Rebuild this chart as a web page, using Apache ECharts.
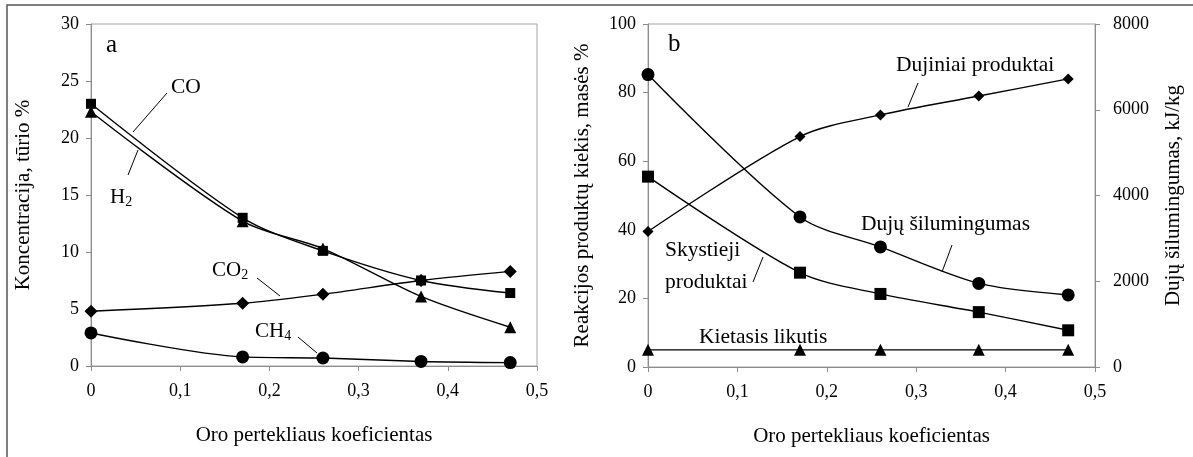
<!DOCTYPE html>
<html><head><meta charset="utf-8">
<script src="https://cdn.jsdelivr.net/npm/echarts@6/dist/echarts.min.js"></script>
<style>html,body{margin:0;padding:0;background:#fff}#c{width:1193px;height:457px}</style>
</head><body><div id="c"></div>
<script>
const xValues = [0, 0.17, 0.26, 0.37, 0.47];
const xTicks = ['0', '0,1', '0,2', '0,3', '0,4', '0,5'];
const coData = [23.0, 13.0, 10.1, 7.5, 6.4];
const h2Data = [22.3, 12.7, 10.3, 6.1, 3.4];
const co2Data = [4.8, 5.5, 6.3, 7.5, 8.3];
const ch4Data = [2.9, 0.8, 0.7, 0.4, 0.3];
const gasProducts = [39.5, 67.2, 73.5, 79.0, 84.0];
const liquidProducts = [55.5, 27.5, 21.3, 16.0, 10.7];
const solidResidue = [5, 5, 5, 5, 5];
const gasHeat = [6820, 3500, 2800, 1950, 1680];

const FONT = '"Liberation Serif", "Times New Roman", serif';
const pair = arr => arr.map((v, i) => [xValues[i], v]);
const xFmt = v => { const i = Math.round(v * 10); return xTicks[i] !== undefined ? xTicks[i] : ''; };
const axisLine = {lineStyle: {color: '#8c8c8c', width: 1}};
const tick = {show: true, length: 5, lineStyle: {color: '#8c8c8c'}};
const lbl = {fontFamily: FONT, fontSize: 18, color: '#000'};
const titleStyle = {fontFamily: FONT, fontSize: 21, color: '#000'};

function xAxis(grid) {
  return {type: 'value', gridIndex: grid, min: 0, max: 0.5, interval: 0.1,
    axisLine, axisTick: tick, splitLine: {show: false},
    axisLabel: Object.assign({margin: 16, formatter: xFmt}, lbl),
    name: 'Oro pertekliaus koeficientas', nameLocation: 'middle', nameGap: 59,
    nameTextStyle: titleStyle};
}
function line(name, data, x, y, symbol, size) {
  return {name, type: 'line', xAxisIndex: x, yAxisIndex: y, data: pair(data),
    smooth: 0.3, symbol, symbolSize: size, showSymbol: true,
    lineStyle: {color: '#000', width: 1.4}, itemStyle: {color: '#000'}, z: 3};
}

const sub = {fontFamily: FONT, fontSize: 14, color: '#000', padding: [10, 0, 0, 0]};
const big = {fontFamily: FONT, fontSize: 21, color: '#000'};
function txt(x, y, text, rich, size) {
  return {type: 'text', left: x, top: y, style: {text, fill: '#000',
    font: (size || 21.5) + 'px ' + FONT, rich: rich ? {b: big, s: sub} : undefined}, z: 10};
}
function seg(x1, y1, x2, y2) {
  return {type: 'line', shape: {x1, y1, x2, y2}, style: {stroke: '#000', lineWidth: 1}, z: 10};
}

const option = {
  animation: false,
  backgroundColor: '#fff',
  grid: [
    {left: 91, top: 24, right: 656, bottom: 91, show: true, borderColor: '#a6a6a6', borderWidth: 1},
    {left: 648, top: 24, right: 98, bottom: 90, show: true, borderColor: '#a6a6a6', borderWidth: 1}
  ],
  xAxis: [xAxis(0), xAxis(1)],
  yAxis: [
    {type: 'value', gridIndex: 0, min: 0, max: 30, interval: 5, axisLine: Object.assign({show: true}, axisLine),
      axisTick: tick, splitLine: {show: false}, axisLabel: Object.assign({margin: 12}, lbl),
      name: 'Koncentracija, tūrio %', nameLocation: 'middle', nameGap: 57, nameTextStyle: titleStyle},
    {type: 'value', gridIndex: 1, min: 0, max: 100, interval: 20, axisLine: Object.assign({show: true}, axisLine),
      axisTick: tick, splitLine: {show: false}, axisLabel: Object.assign({margin: 12}, lbl),
      name: 'Reakcijos produktų kiekis, masės %', nameLocation: 'middle', nameGap: 55, nameTextStyle: titleStyle},
    {type: 'value', gridIndex: 1, position: 'right', min: 0, max: 8000, interval: 2000,
      axisLine: Object.assign({show: true}, axisLine),
      axisTick: tick, splitLine: {show: false},
      axisLabel: Object.assign({margin: 18, formatter: v => String(v)}, lbl),
      name: 'Dujų šilumingumas, kJ/kg', nameLocation: 'middle', nameGap: 68, nameRotate: 90,
      nameTextStyle: titleStyle}
  ],
  series: [
    line('CO', coData, 0, 0, 'rect', 10),
    line('H2', h2Data, 0, 0, 'triangle', 12),
    line('CO2', co2Data, 0, 0, 'diamond', 13),
    line('CH4', ch4Data, 0, 0, 'circle', 13),
    line('Dujiniai produktai', gasProducts, 1, 1, 'diamond', 11),
    line('Skystieji produktai', liquidProducts, 1, 1, 'rect', 12),
    line('Kietasis likutis', solidResidue, 1, 1, 'triangle', 12),
    line('Dujų šilumingumas', gasHeat, 1, 2, 'circle', 13)
  ],
  graphic: [
    {type: 'polyline', shape: {points: [[7, 470], [7, 5], [1200, 5]]}, style: {stroke: '#555', lineWidth: 1.5, fill: null}, z: 1},
    txt(106, 33, 'a', false, 25),
    txt(171, 76, 'CO'),
    seg(167, 93, 133, 132),
    txt(110, 187, '{b|H}{s|2}', true),
    seg(128, 175, 138, 150),
    txt(212, 260, '{b|CO}{s|2}', true),
    seg(257, 278, 280, 296),
    txt(255, 321, '{b|CH}{s|4}', true),
    seg(298, 337, 317, 353),
    txt(668, 32, 'b', false, 25),
    txt(896, 54, 'Dujiniai produktai'),
    seg(918, 83, 908, 107),
    txt(861, 213, 'Dujų šilumingumas'),
    seg(952, 245, 942, 272),
    txt(665, 239, 'Skystieji'),
    txt(665, 271, 'produktai'),
    seg(753, 282, 763, 257),
    txt(699, 326, 'Kietasis likutis')
  ]
};
const chart = echarts.init(document.getElementById('c'), null, {renderer: 'canvas'});
chart.setOption(option);
</script></body></html>
